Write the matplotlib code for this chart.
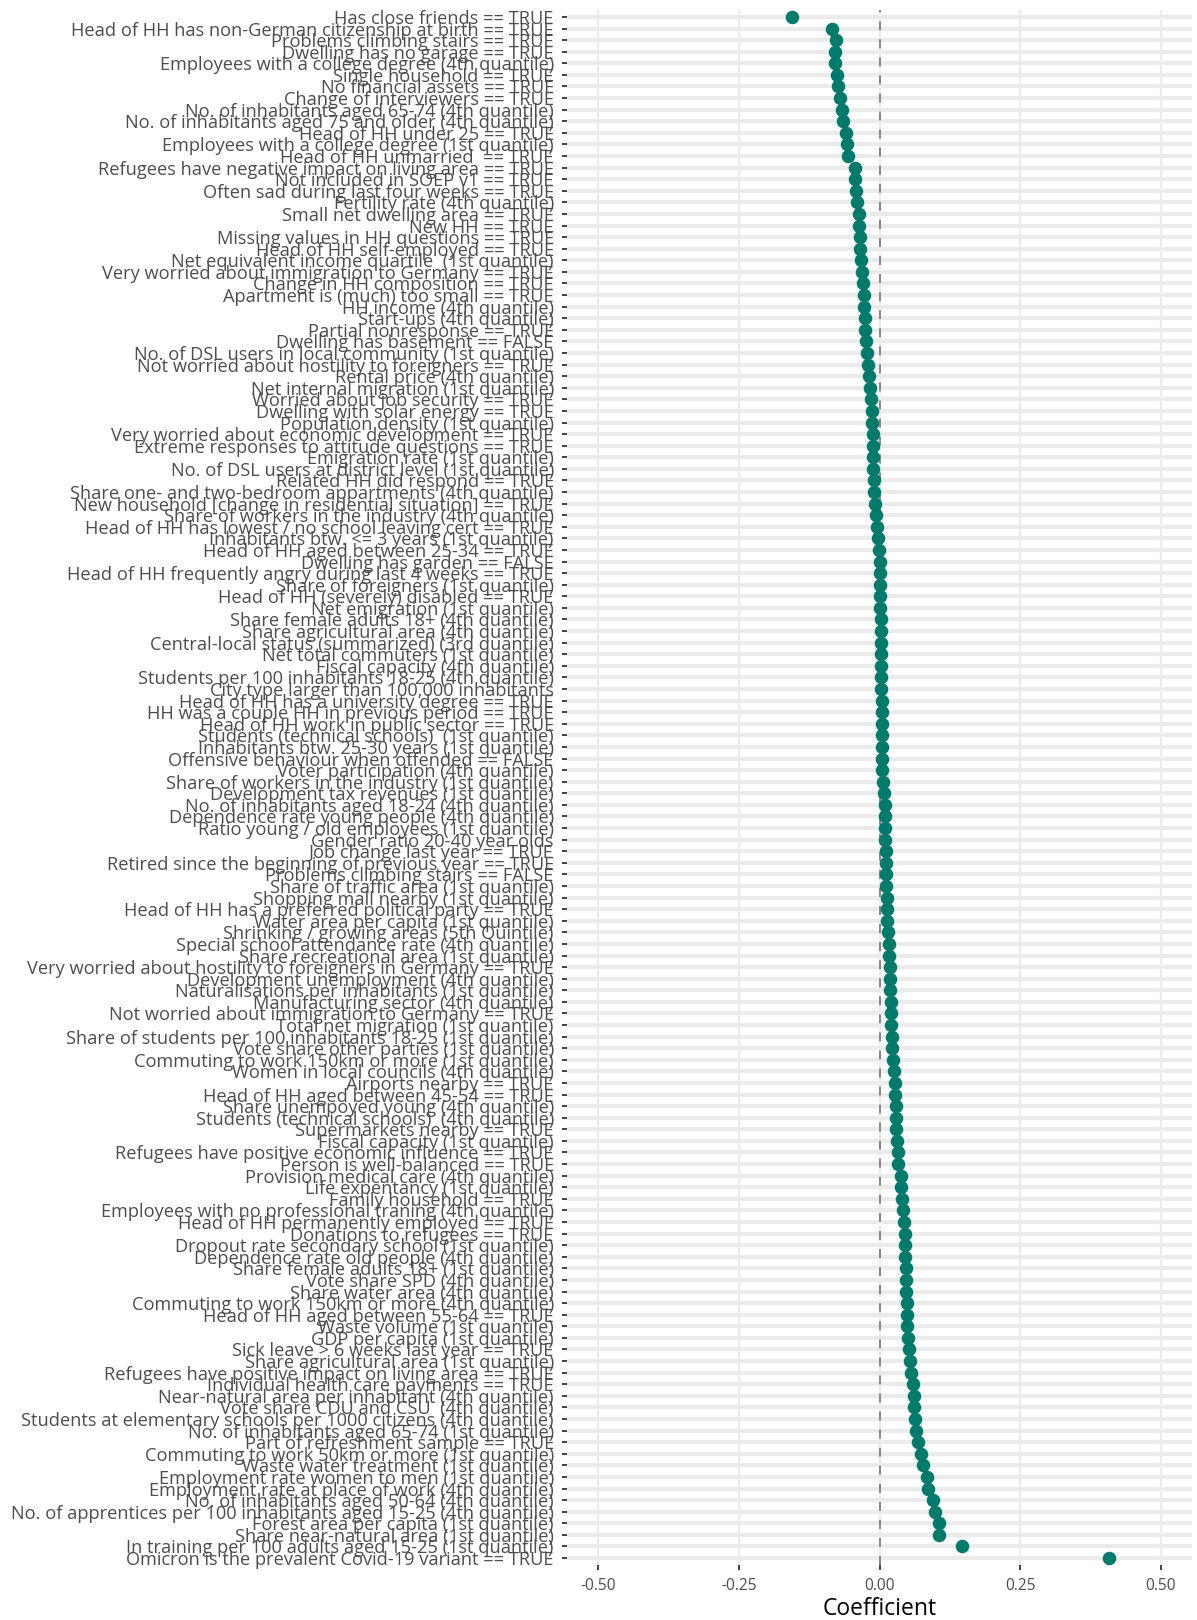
import matplotlib
matplotlib.use("Agg")
import matplotlib.pyplot as plt

labels = [
    "Has close friends == TRUE",
    "Head of HH has non-German citizenship at birth == TRUE",
    "Problems climbing stairs == TRUE",
    "Dwelling has no garage == TRUE",
    "Employees with a college degree (4th quantile)",
    "Single household == TRUE",
    "No financial assets == TRUE",
    "Change of interviewers == TRUE",
    "No. of inhabitants aged 65-74 (4th quantile)",
    "No. of inhabitants aged 75 and older (4th quantile)",
    "Head of HH under 25 == TRUE",
    "Employees with a college degree (1st quantile)",
    "Head of HH unmarried  == TRUE",
    "Refugees have negative impact on living area == TRUE",
    "Not included in SOEP v1 == TRUE",
    "Often sad during last four weeks == TRUE",
    "Fertility rate (4th quantile)",
    "Small net dwelling area == TRUE",
    "New HH == TRUE",
    "Missing values in HH questions == TRUE",
    "Head of HH self-employed == TRUE",
    "Net equivalent income quartile  (1st quantile)",
    "Very worried about immigration to Germany == TRUE",
    "Change in HH composition == TRUE",
    "Apartment is (much) too small == TRUE",
    "HH income (4th quantile)",
    "Start-ups (4th quantile)",
    "Partial nonresponse == TRUE",
    "Dwelling has basement == FALSE",
    "No. of DSL users in local community (1st quantile)",
    "Not worried about hostility to foreigners == TRUE",
    "Rental price (4th quantile)",
    "Net internal migration (1st quantile)",
    "Worried about job security == TRUE",
    "Dwelling with solar energy == TRUE",
    "Population density (1st quantile)",
    "Very worried about economic development == TRUE",
    "Extreme responses to attitude questions == TRUE",
    "Emigration rate (1st quantile)",
    "No. of DSL users at district level (1st quantile)",
    "Related HH did respond == TRUE",
    "Share one- and two-bedroom appartments (4th quantile)",
    "New household [change in residential situation] == TRUE",
    "Share of workers in the industry (4th quantile)",
    "Head of HH has lowest / no school leaving cert == TRUE",
    "Inhabitants btw. <= 3 years (1st quantile)",
    "Head of HH aged between 25-34 == TRUE",
    "Dwelling has garden == FALSE",
    "Head of HH frequently angry during last 4 weeks == TRUE",
    "Share of foreigners (1st quantile)",
    "Head of HH (severely) disabled == TRUE",
    "Net emigration (1st quantile)",
    "Share female adults 18+ (4th quantile)",
    "Share agricultural area (4th quantile)",
    "Central-local status (summarized) (3rd quantile)",
    "Net total commuters (1st quantile)",
    "Fiscal capacity (4th quantile)",
    "Students per 100 inhabitants 18-25 (4th quantile)",
    "City type larger than 100,000 inhabitants",
    "Head of HH has a university degree == TRUE",
    "HH was a couple HH in previous period == TRUE",
    "Head of HH work in public sector == TRUE",
    "Students (technical schools)  (1st quantile)",
    "Inhabitants btw. 25-30 years (1st quantile)",
    "Offensive behaviour when offended == FALSE",
    "Voter participation (4th quantile)",
    "Share of workers in the industry (1st quantile)",
    "Development tax revenues (1st quantile)",
    "No. of inhabitants aged 18-24 (4th quantile)",
    "Dependence rate young people (4th quantile)",
    "Ratio young / old employees (1st quantile)",
    "Gender ratio 20-40 year olds",
    "Job change last year == TRUE",
    "Retired since the beginning of previous year == TRUE",
    "Problems climbing stairs == FALSE",
    "Share of traffic area (1st quantile)",
    "Shopping mall nearby (1st quantile)",
    "Head of HH has a preferred political party == TRUE",
    "Water area per capita (1st quantile)",
    "Shrinking / growing areas (5th Quintile)",
    "Special school attendance rate (4th quantile)",
    "Share recreational area (1st quantile)",
    "Very worried about hostility to foreigners in Germany == TRUE",
    "Development unemployment (4th quantile)",
    "Naturalisations per inhabitants (1st quantile)",
    "Manufacturing sector (4th quantile)",
    "Not worried about immigration to Germany == TRUE",
    "Total net migration (1st quantile)",
    "Share of students per 100 inhabitants 18-25 (1st quantile)",
    "Vote share other parties (1st quantile)",
    "Commuting to work 150km or more (1st quantile)",
    "Women in local councils (4th quantile)",
    "Airports nearby == TRUE",
    "Head of HH aged between 45-54 == TRUE",
    "Share unempoyed young (4th quantile)",
    "Students (technical schools)  (4th quantile)",
    "Supermarkets nearby == TRUE",
    "Fiscal capacity (1st quantile)",
    "Refugees have positive economic influence == TRUE",
    "Person is well-balanced == TRUE",
    "Provision medical care (4th quantile)",
    "Life expentancy (1st quantile)",
    "Family household == TRUE",
    "Employees with no professional traning (4th quantile)",
    "Head of HH permanently employed == TRUE",
    "Donations to refugees == TRUE",
    "Dropout rate secondary school (1st quantile)",
    "Dependence rate old people (4th quantile)",
    "Share female adults 18+ (1st quantile)",
    "Vote share SPD (4th quantile)",
    "Share water area (4th quantile)",
    "Commuting to work 150km or more (4th quantile)",
    "Head of HH aged between 55-64 == TRUE",
    "Waste volume (1st quantile)",
    "GDP per capita (1st quantile)",
    "Sick leave > 6 weeks last year == TRUE",
    "Share agricultural area (1st quantile)",
    "Refugees have positive impact on living area == TRUE",
    "Individual health care payments == TRUE",
    "Near-natural area per inhabitant (4th quantile)",
    "Vote share CDU and CSU  (4th quantile)",
    "Students at elementary schools per 1000 citizens (4th quantile)",
    "No. of inhabitants aged 65-74 (1st quantile)",
    "Part of refreshment sample == TRUE",
    "Commuting to work 50km or more (1st quantile)",
    "Waste water treatment (1st quantile)",
    "Employment rate women to men (1st quantile)",
    "Employment rate at place of work (4th quantile)",
    "No. of inhabitants aged 50-64 (4th quantile)",
    "No. of apprentices per 100 inhabitants aged 15-25 (4th quantile)",
    "Forest area per capita (1st quantile)",
    "Share near-natural area (1st quantile)",
    "In training per 100 adults aged 15-25 (1st quantile)",
    "Omicron is the prevalent Covid-19 variant == TRUE",
]

coefficients = [
    -0.156, -0.085, -0.078, -0.079, -0.079, -0.076, -0.073, -0.070, -0.066, -0.065,
    -0.060, -0.058, -0.056, -0.044, -0.043, -0.041, -0.040, -0.037, -0.036, -0.035,
    -0.034, -0.033, -0.031, -0.029, -0.028, -0.027, -0.026, -0.025, -0.024, -0.023,
    -0.021, -0.019, -0.016, -0.015, -0.014, -0.013, -0.012, -0.012, -0.011, -0.011,
    -0.010, -0.009, -0.008, -0.007, -0.005, -0.003, -0.001, 0.000, 0.000, 0.001,
    0.001, 0.001, 0.002, 0.002, 0.002, 0.002, 0.003, 0.003, 0.003, 0.004,
    0.004, 0.004, 0.005, 0.005, 0.005, 0.005, 0.006, 0.008, 0.009, 0.010,
    0.010, 0.010, 0.011, 0.011, 0.011, 0.012, 0.013, 0.014, 0.014, 0.015,
    0.016, 0.017, 0.018, 0.019, 0.019, 0.020, 0.020, 0.021, 0.022, 0.023,
    0.024, 0.025, 0.027, 0.028, 0.029, 0.030, 0.030, 0.031, 0.032, 0.033,
    0.038, 0.039, 0.040, 0.042, 0.044, 0.045, 0.046, 0.046, 0.047, 0.047,
    0.047, 0.048, 0.049, 0.049, 0.050, 0.052, 0.054, 0.056, 0.059, 0.061,
    0.062, 0.063, 0.065, 0.069, 0.074, 0.078, 0.084, 0.087, 0.095, 0.098,
    0.105, 0.105, 0.147, 0.407,
]

x_ticks = [-0.50, -0.25, 0.00, 0.25, 0.50]
x_tick_labels = ["-0.50", "-0.25", "0.00", "0.25", "0.50"]
x_label = "Coefficient"

W, H = 1197, 1620
fig = plt.figure(figsize=(W / 100, H / 100), dpi=100)
fig.patch.set_facecolor("white")

left, right, top, bottom = 567, 1192, 10, 1565
ax = fig.add_axes([left / W, 1 - bottom / H, (right - left) / W, (bottom - top) / H])
ax.set_facecolor("white")

font = ["Open Sans", "DejaVu Sans"]
n = len(labels)
ypos = list(range(n))

ax.set_xlim(-0.555, 0.555)
ax.set_ylim(n - 1 + 0.6, -0.6)

grid_col = "#EBEBEB"
for y in ypos:
    ax.axhline(y, color=grid_col, lw=3.0, zorder=0)
for xt in x_ticks:
    ax.axvline(xt, color=grid_col, lw=1.6, zorder=0)
ax.axvline(0, color="#7F7F7F", lw=1.3, ls=(0, (5, 5)), zorder=1)

ax.scatter(coefficients, ypos, s=95, color="#007A6A", zorder=3, linewidths=0)

ax.set_yticks(ypos)
ax.set_yticklabels(labels, fontsize=13.15, color="#4D4D4D", family=font)
ax.set_xticks(x_ticks)
ax.set_xticklabels(x_tick_labels, fontsize=11.2, color="#4D4D4D", family=font)
ax.tick_params(axis="y", length=3.5, width=1.3, color="#333333", pad=6)
ax.tick_params(axis="x", length=3.5, width=1.3, color="#333333", pad=6)
for s in ax.spines.values():
    s.set_visible(False)

ax.set_xlabel(x_label, fontsize=16.5, color="black", family=font, labelpad=2)

fig.savefig("out.png", dpi=100)
